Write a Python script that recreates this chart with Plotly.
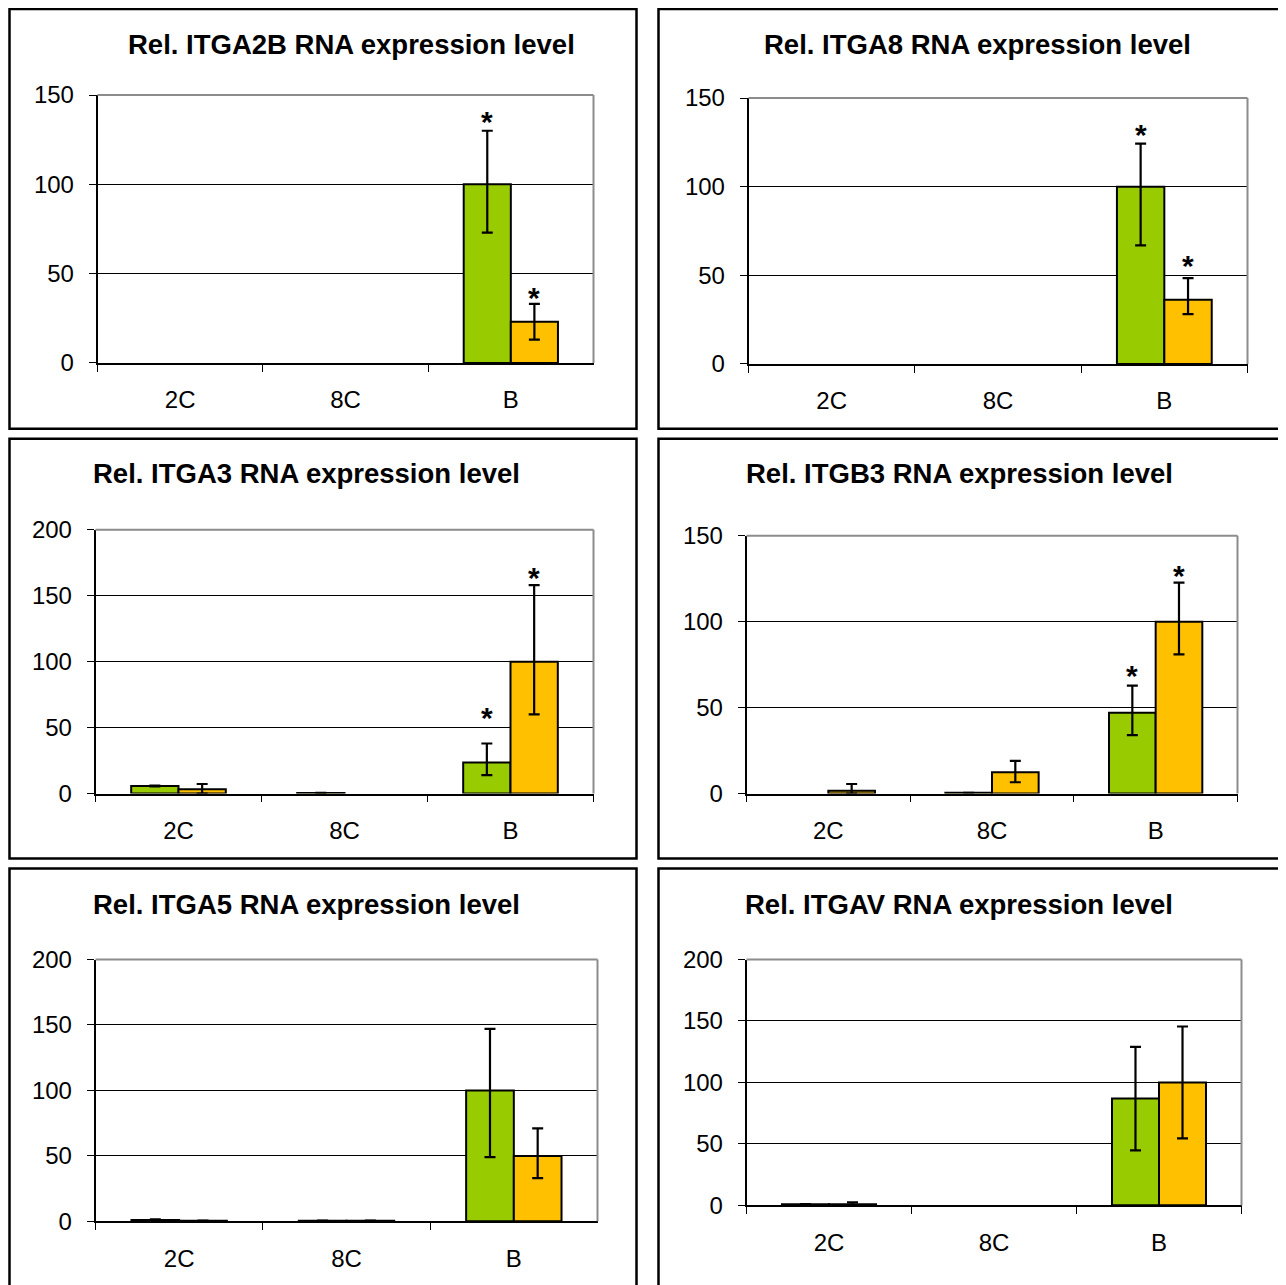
import plotly.graph_objects as go

W, H = 1286, 1285

categories = ["2C", "8C", "B"]
genes = ["ITGA2B", "ITGA8", "ITGA3", "ITGB3", "ITGA5", "ITGAV"]

green_vals = [[0, 0, 100], [0, 0, 100], [5.7, 0.5, 23.5], [0, 0.5, 47], [1.0, 0.5, 100], [1.0, 0, 87]]
green_err_plus = [[0, 0, 30], [0, 0, 24.3], [0.3, 0, 14.5], [0, 0, 15.8], [0.5, 0, 47], [0, 0, 42]]
green_err_minus = [[0, 0, 27], [0, 0, 33.1], [0.3, 0, 9.5], [0, 0, 13], [0.5, 0, 51], [0, 0, 42.3]]

orange_vals = [[0, 0, 23], [0, 0, 36.2], [3.3, 0, 100], [1.7, 12.4, 100], [0.5, 0.5, 50], [1.0, 0, 100]]
orange_err_plus = [[0, 0, 10], [0, 0, 12.2], [4, 0, 58], [3.9, 6.6, 22.7], [0, 0, 21], [1.5, 0, 45.5]]
orange_err_minus = [[0, 0, 10], [0, 0, 8.1], [3.3, 0, 40], [1.7, 5.8, 19], [0, 0, 17], [1.0, 0, 45.5]]

y_max = [150, 150, 200, 150, 200, 200]
y_dtick = [50, 50, 50, 50, 50, 50]

# significance asterisks at "B" (green, orange) in data units; None = no asterisk
star_green_y = [137.7, 131.5, 60.6, 70.9, None, None]
star_orange_y = [38.8, 58, 166.7, 129, None, None]

GREEN = "#99CC00"
ORANGE = "#FFC000"
FONT = "Liberation Sans, Arial, sans-serif"

# layout (pixels in the target picture)
plot_px = [
    (97, 593, 94, 362),
    (748, 1247, 97, 363),
    (95, 593, 529, 793),
    (746, 1237, 535, 793),
    (95, 597, 959, 1221),
    (746, 1241, 959, 1205),
]
title_px = [(351, 43), (977, 43), (306, 473), (959, 473), (306, 904), (958, 904)]
box_px = [
    (9, 636, 8, 428), (658, 1300, 8, 428),
    (9, 636, 438, 858), (658, 1300, 438, 858),
    (9, 636, 868, 1300), (658, 1300, 868, 1300),
]

# page placement correction (observed offset / vertical scale of the rendered page)
DX, DY, SY = 7.5, 20.9, 0.9796


def px_x(x):
    return (x - DX) / W


def px_y(y):
    return 1 - (y - DY) / (SY * H)


def nz(vals):
    # zero-height bars are not drawn (as in the original)
    return [v if v > 0 else None for v in vals]


fig = go.Figure()
shapes = []
annotations = []

for i, gene in enumerate(genes):
    xa = "x" if i == 0 else f"x{i+1}"
    ya = "y" if i == 0 else f"y{i+1}"
    xkey = "xaxis" if i == 0 else f"xaxis{i+1}"
    ykey = "yaxis" if i == 0 else f"yaxis{i+1}"
    x0, x1, yt, yb = plot_px[i]

    fig.add_trace(go.Bar(
        x=categories, y=nz(green_vals[i]), xaxis=xa, yaxis=ya,
        marker=dict(color=GREEN, line=dict(color="black", width=2)),
        error_y=dict(type="data", symmetric=False, array=green_err_plus[i],
                     arrayminus=green_err_minus[i], color="black", thickness=2.2, width=5.5),
        showlegend=False, hoverinfo="skip",
    ))
    fig.add_trace(go.Bar(
        x=categories, y=nz(orange_vals[i]), xaxis=xa, yaxis=ya,
        marker=dict(color=ORANGE, line=dict(color="black", width=2)),
        error_y=dict(type="data", symmetric=False, array=orange_err_plus[i],
                     arrayminus=orange_err_minus[i], color="black", thickness=2.2, width=5.5),
        showlegend=False, hoverinfo="skip",
    ))

    fig.layout[xkey] = dict(
        domain=[px_x(x0), px_x(x1)], anchor=ya, type="category",
        range=[-0.5, 2.5], showline=True, linecolor="black", linewidth=1.5,
        ticks="outside", tickson="boundaries", ticklen=7, tickwidth=1.2, tickcolor="black",
        tickfont=dict(family=FONT, size=24, color="black"), ticklabelstandoff=15,
        showgrid=False, zeroline=False, fixedrange=True,
    )
    fig.layout[ykey] = dict(
        domain=[px_y(yb), px_y(yt)], anchor=xa,
        range=[0, y_max[i]], dtick=y_dtick[i], tick0=0,
        showline=True, linecolor="black", linewidth=1.5,
        ticks="outside", ticklen=7, tickwidth=1.2, tickcolor="black",
        tickfont=dict(family=FONT, size=24, color="black"), ticklabelstandoff=10,
        showgrid=True, gridcolor="black", gridwidth=1, zeroline=False, fixedrange=True,
    )

    # gray plot-area border (top and right)
    dref_x = f"{xa} domain"
    dref_y = f"{ya} domain"
    shapes.append(dict(type="line", xref=dref_x, yref=dref_y, x0=0, x1=1, y0=1, y1=1,
                       line=dict(color="#8c8c8c", width=2), layer="above"))
    shapes.append(dict(type="line", xref=dref_x, yref=dref_y, x0=1, x1=1, y0=0, y1=1,
                       line=dict(color="#8c8c8c", width=2), layer="above"))

    # title
    tx, ty = title_px[i]
    annotations.append(dict(
        text=f"<b>Rel. {gene} RNA expression level</b>", xref="paper", yref="paper",
        x=px_x(tx), y=px_y(ty), xanchor="center", yanchor="middle", showarrow=False,
        font=dict(family=FONT, size=27.5, color="black"),
    ))

    # asterisks
    for sy, shift in ((star_green_y[i], -23.5), (star_orange_y[i], 23.5)):
        if sy is None:
            continue
        annotations.append(dict(
            text="<b>*</b>", xref=xa, yref=ya, x="B", y=sy, xshift=shift, yshift=-4,
            xanchor="center", yanchor="middle", showarrow=False,
            font=dict(family=FONT, size=30, color="black"),
        ))

for (bx0, bx1, by0, by1) in box_px:
    shapes.append(dict(type="rect", xref="paper", yref="paper",
                       x0=px_x(bx0), x1=px_x(bx1), y0=px_y(by1), y1=px_y(by0),
                       line=dict(color="black", width=2.5)))

fig.update_layout(
    width=W, height=H, margin=dict(l=0, r=0, t=0, b=0),
    paper_bgcolor="white", plot_bgcolor="white",
    barmode="group", bargap=0.43, bargroupgap=0,
    shapes=shapes, annotations=annotations,
    font=dict(family=FONT, color="black"),
)

fig.write_html("out.html")
